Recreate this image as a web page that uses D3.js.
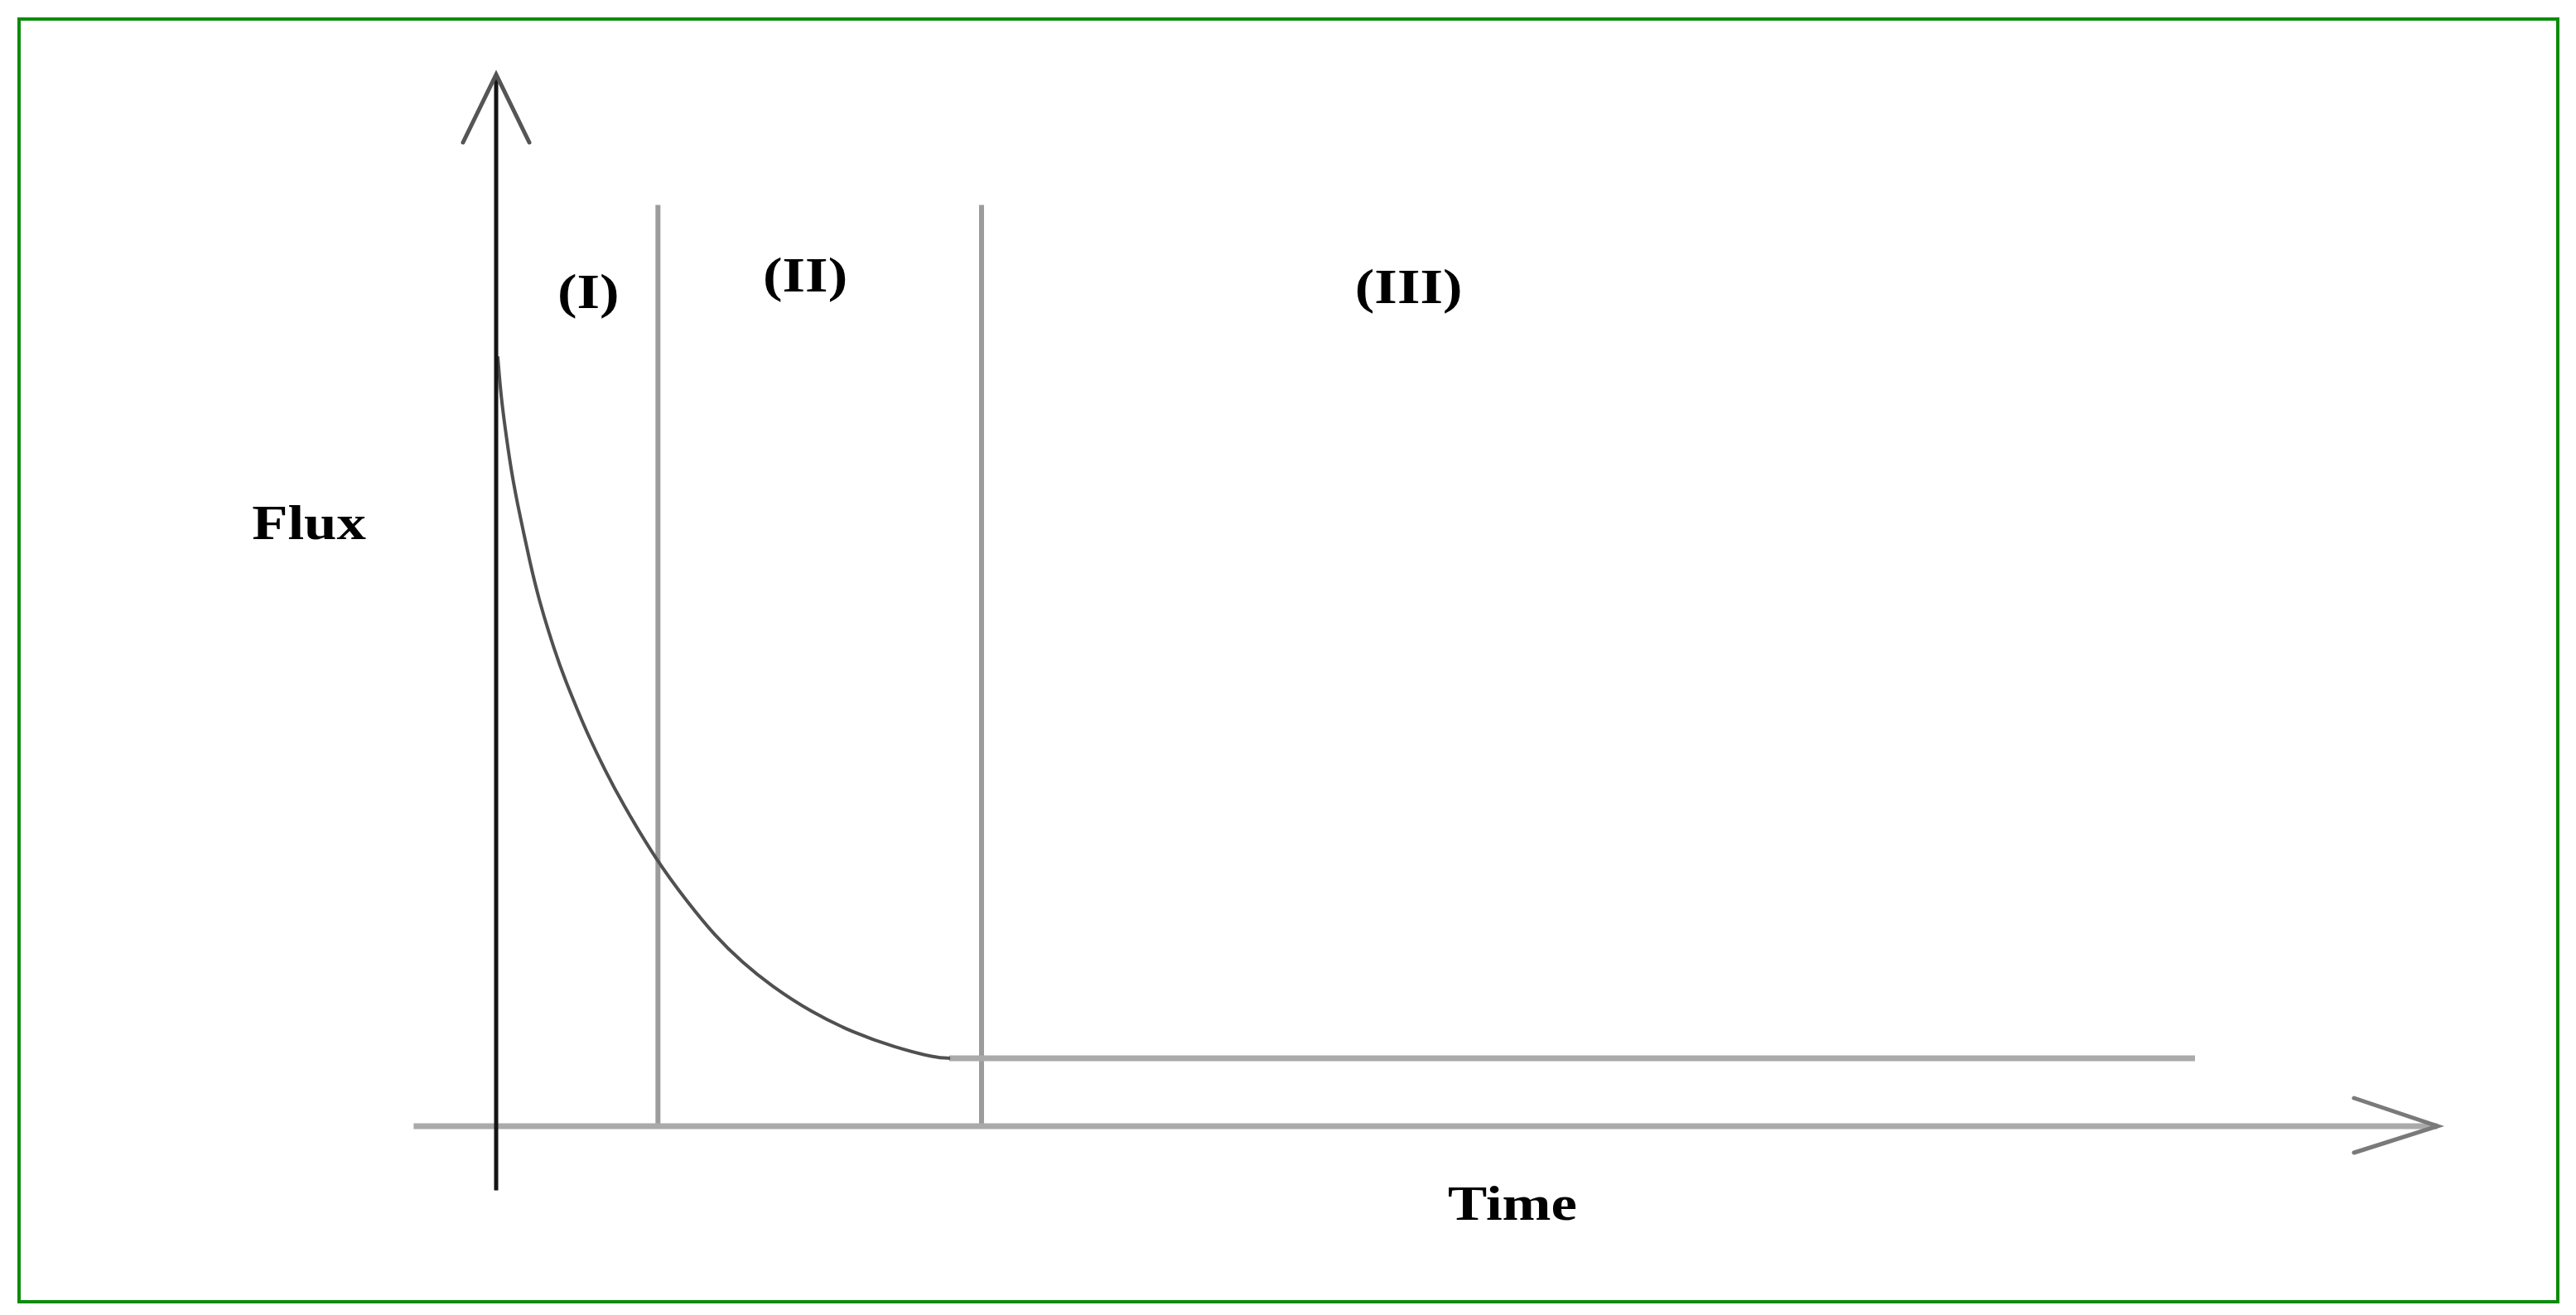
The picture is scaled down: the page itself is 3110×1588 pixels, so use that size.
<!DOCTYPE html>
<html>
<head>
<meta charset="utf-8">
<script src="https://cdn.jsdelivr.net/npm/d3@7"></script>
<style>
  html, body { margin: 0; padding: 0; background: #fff; }
  svg { display: block; }
  text { font-family: 'Liberation Serif', 'Times New Roman', serif; font-weight: bold; fill: #000; }
</style>
</head>
<body>
<svg id="chart" width="3110" height="1588"></svg>
<script>
// flux decline curve (time and flux in arbitrary units)
var curveTime = [0.01, 0.03, 0.067, 0.097, 0.133, 0.169, 0.205, 0.261, 0.363, 0.43, 0.502, 0.568, 0.671, 0.773,
  0.993, 1.183, 1.352, 1.526, 1.695, 1.951, 2.207, 2.462, 2.718, 2.806];
var curveFlux = [7.32, 6.93, 6.51, 6.2, 5.91, 5.65, 5.39, 5.02, 4.51, 4.23, 3.96, 3.72, 3.39, 3.09,
  2.52, 2.13, 1.81, 1.55, 1.34, 1.08, 0.89, 0.75, 0.65, 0.646];
var steadyFlux = 0.645;
var steadyEnd = 10.5;
var stageBounds = [1, 3];
var stageLabels = ['(I)', '(II)', '(III)'];
var stageLabelTime = [0.57, 1.91, 5.64];
var stageLabelFlux = [7.78, 7.94, 7.83];

var svg = d3.select('#chart');

var x = d3.scaleLinear().domain([0, 12]).range([599, 2943]);
var y = d3.scaleLinear().domain([0, 10]).range([1360, 90]);

// green frame
svg.append('rect')
  .attr('x', 23).attr('y', 23)
  .attr('width', 3065).attr('height', 1549)
  .attr('fill', 'none')
  .attr('stroke', '#0b8c0b')
  .attr('stroke-width', 4);

// stage dividers
svg.selectAll('.divider')
  .data(stageBounds)
  .enter()
  .append('line')
  .attr('class', 'divider')
  .attr('x1', d => x(d)).attr('x2', d => x(d))
  .attr('y1', y(8.76)).attr('y2', y(0))
  .attr('stroke', '#9c9c9c')
  .attr('stroke-width', 6);

// x axis with arrow
svg.append('line')
  .attr('x1', x(-0.51)).attr('x2', x(12))
  .attr('y1', y(0)).attr('y2', y(0))
  .attr('stroke', '#aaa')
  .attr('stroke-width', 7);
svg.append('path')
  .attr('d', 'M' + (x(12) - 101) + ',' + (y(0) - 34) + 'L' + x(12) + ',' + y(0) + 'L' + (x(12) - 101) + ',' + (y(0) + 32))
  .attr('fill', 'none')
  .attr('stroke', '#7a7a7a')
  .attr('stroke-width', 5)
  .attr('stroke-linecap', 'round');

// steady state line
svg.append('line')
  .attr('x1', x(2.8)).attr('x2', x(steadyEnd))
  .attr('y1', y(steadyFlux)).attr('y2', y(steadyFlux))
  .attr('stroke', '#aaa')
  .attr('stroke-width', 7);

// decline curve
var pts = curveTime.map((t, i) => [t, curveFlux[i]]);
svg.append('path')
  .datum(pts)
  .attr('d', d3.line().x(d => x(d[0])).y(d => y(d[1])).curve(d3.curveBasis))
  .attr('fill', 'none')
  .attr('stroke', '#505050')
  .attr('stroke-width', 4);

// y axis with arrow
svg.append('line')
  .attr('x1', x(0)).attr('x2', x(0))
  .attr('y1', y(10)).attr('y2', y(-0.61))
  .attr('stroke', '#151515')
  .attr('stroke-width', 5);
svg.append('path')
  .attr('d', 'M' + (x(0) - 40) + ',' + (y(10) + 82) + 'L' + x(0) + ',' + y(10) + 'L' + (x(0) + 40) + ',' + (y(10) + 82))
  .attr('fill', 'none')
  .attr('stroke', '#555')
  .attr('stroke-width', 5)
  .attr('stroke-linecap', 'round');

// labels (source is stretched horizontally)
function label(txt, cx, by) {
  svg.append('text')
    .attr('transform', 'translate(' + cx + ',' + by + ') scale(1.2,1)')
    .attr('text-anchor', 'middle')
    .attr('font-size', 59)
    .text(txt);
}
stageLabels.forEach((s, i) => label(s, x(stageLabelTime[i]), y(stageLabelFlux[i])));
label('Flux', 373, 651);
label('Time', 1826, 1473);
</script>
</body>
</html>
